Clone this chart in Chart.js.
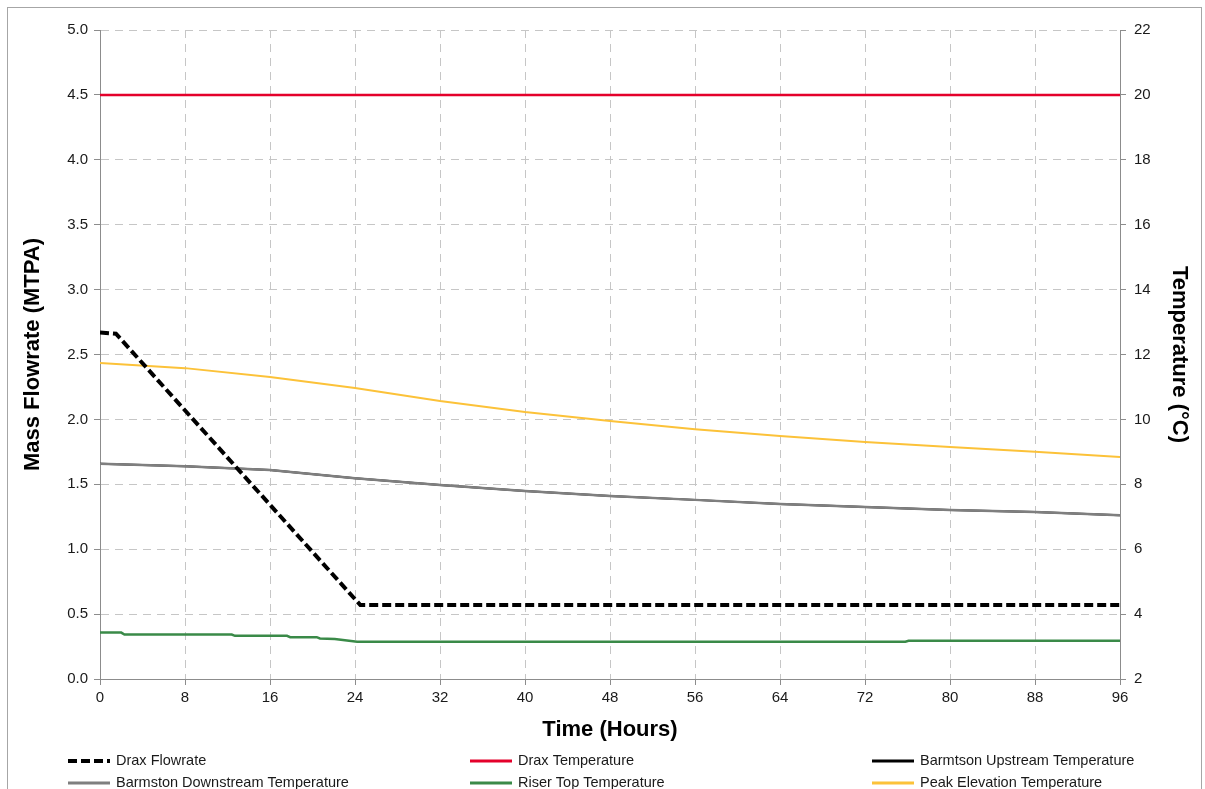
<!DOCTYPE html>
<html>
<head>
<meta charset="utf-8">
<script src="https://cdn.jsdelivr.net/npm/chart.js@4"></script>
<style>
  body { margin: 0; background: #fff; }
  #frame { position: absolute; left: 7px; top: 7px; width: 1193px; height: 800px;
           border: 1px solid #a6a6a6; }
  #wrap { position: absolute; left: 0; top: 0; width: 1205px; height: 789px; }
</style>
</head>
<body>
<div id="frame"></div>
<div id="wrap"><canvas id="chart" width="1205" height="789"></canvas></div>
<script>
// hours on x axis, flowrate in MTPA (left), temperatures in deg C (right)
const flowHours = [0, 1.5, 24.5, 96];
const draxFlow = [2.67, 2.66, 0.57, 0.57];

const draxTempHours = [0, 96];
const draxTemp = [20, 20];

const tempHours = [0, 8, 16, 24, 32, 40, 48, 56, 64, 72, 80, 88, 96];
const upstreamTemp = [8.63, 8.56, 8.44, 8.19, 7.98, 7.79, 7.64, 7.52, 7.39, 7.30, 7.21, 7.15, 7.05];
const downstreamTemp = [8.63, 8.56, 8.44, 8.19, 7.98, 7.79, 7.64, 7.52, 7.39, 7.30, 7.21, 7.15, 7.05];
const peakTemp = [11.74, 11.58, 11.31, 10.97, 10.57, 10.23, 9.95, 9.70, 9.49, 9.30, 9.15, 9.00, 8.84];

const riserHours = [0, 2, 2.3, 12.4, 12.7, 17.6, 17.9, 20.4, 20.7, 22.1, 24.2, 75.8, 76.1, 96];
const riserTemp = [3.43, 3.43, 3.37, 3.37, 3.33, 3.33, 3.29, 3.29, 3.25, 3.23, 3.15, 3.15, 3.18, 3.18];

const xTicks = [0, 8, 16, 24, 32, 40, 48, 56, 64, 72, 80, 88, 96];

function pts(xs, ys) {
    return xs.map((x, i) => ({ x: x, y: ys[i] }));
}

const gridDash = [8, 6];
const tickFont = { family: "Liberation Sans, Arial, sans-serif", size: 15 };
const titleFont = { family: "Liberation Sans, Arial, sans-serif", size: 22, weight: "bold" };

// legend in three fixed columns like the spreadsheet one
const legendCols = [68, 470, 872];
const legendRows = [761, 783];
const fixedLegend = {
    id: "fixedLegend",
    afterDraw(chart) {
        const ctx = chart.ctx;
        ctx.save();
        ctx.font = "14.5px Liberation Sans, Arial, sans-serif";
        ctx.textBaseline = "middle";
        chart.data.datasets.forEach((ds, i) => {
            let x = legendCols[i % 3];
            let y = legendRows[Math.floor(i / 3)];
            ctx.strokeStyle = ds.borderColor;
            ctx.lineWidth = ds.legendWidth;
            ctx.setLineDash(ds.borderDash || []);
            ctx.beginPath();
            ctx.moveTo(x, y);
            ctx.lineTo(x + 42, y);
            ctx.stroke();
            ctx.setLineDash([]);
            ctx.fillStyle = "#1a1a1a";
            ctx.fillText(ds.label, x + 48, y);
        });
        ctx.restore();
    }
};

new Chart(document.getElementById("chart"), {
    type: "line",
    data: {
        datasets: [
            { label: "Drax Flowrate", data: pts(flowHours, draxFlow), yAxisID: "y",
              borderColor: "#000000", borderWidth: 4, borderDash: [9, 4], legendWidth: 4, order: 0 },
            { label: "Drax Temperature", data: pts(draxTempHours, draxTemp), yAxisID: "y1",
              borderColor: "#e4002b", borderWidth: 2.5, legendWidth: 3, order: 1 },
            { label: "Barmtson Upstream Temperature", data: pts(tempHours, upstreamTemp), yAxisID: "y1",
              borderColor: "#000000", borderWidth: 2, legendWidth: 3, order: 10 },
            { label: "Barmston Downstream Temperature", data: pts(tempHours, downstreamTemp), yAxisID: "y1",
              borderColor: "#7f7f7f", borderWidth: 2.5, legendWidth: 3, order: 3 },
            { label: "Riser Top Temperature", data: pts(riserHours, riserTemp), yAxisID: "y1",
              borderColor: "#3a8a48", borderWidth: 2.5, legendWidth: 3, order: 4 },
            { label: "Peak Elevation Temperature", data: pts(tempHours, peakTemp), yAxisID: "y1",
              borderColor: "#fcc239", borderWidth: 2, legendWidth: 3, order: 5 }
        ]
    },
    options: {
        responsive: false,
        animation: false,
        events: [],
        elements: { point: { radius: 0 }, line: { tension: 0, borderCapStyle: "butt" } },
        layout: { padding: { top: 30 } },
        plugins: { legend: { display: false }, tooltip: { enabled: false } },
        scales: {
            x: {
                type: "linear", min: 0, max: 96,
                afterBuildTicks: s => { s.ticks = xTicks.map(v => ({ value: v })); },
                afterFit: s => { s.height = 110; },
                ticks: { color: "#1a1a1a", font: tickFont, padding: 4, maxRotation: 0 },
                grid: { color: "#c6c6c6", tickBorderDash: [], tickColor: "#8c8c8c", tickLength: 6 },
                border: { color: "#8c8c8c", width: 1, dash: gridDash },
                title: { display: true, text: "Time (Hours)", font: titleFont, color: "#000",
                         padding: { top: 0, bottom: 46 } }
            },
            y: {
                position: "left", min: 0, max: 5,
                afterFit: s => { s.width = 100; },
                ticks: { stepSize: 0.5, color: "#1a1a1a", font: tickFont, padding: 6,
                         callback: v => v.toFixed(1) },
                grid: { color: "#c6c6c6", tickBorderDash: [], tickColor: "#8c8c8c", tickLength: 6 },
                border: { color: "#8c8c8c", width: 1, dash: gridDash },
                title: { display: true, text: "Mass Flowrate (MTPA)", font: titleFont, color: "#000",
                         padding: { top: 20, bottom: 0 } }
            },
            y1: {
                position: "right", min: 2, max: 22,
                afterFit: s => { s.width = 85; },
                ticks: { stepSize: 2, color: "#1a1a1a", font: tickFont, padding: 8 },
                grid: { drawOnChartArea: false, tickColor: "#8c8c8c", tickLength: 6 },
                border: { color: "#8c8c8c", width: 1 },
                title: { display: true, text: "Temperature (°C)", font: titleFont, color: "#000",
                         padding: { top: 13, bottom: 0 } }
            }
        }
    },
    plugins: [fixedLegend]
});
</script>
</body>
</html>
